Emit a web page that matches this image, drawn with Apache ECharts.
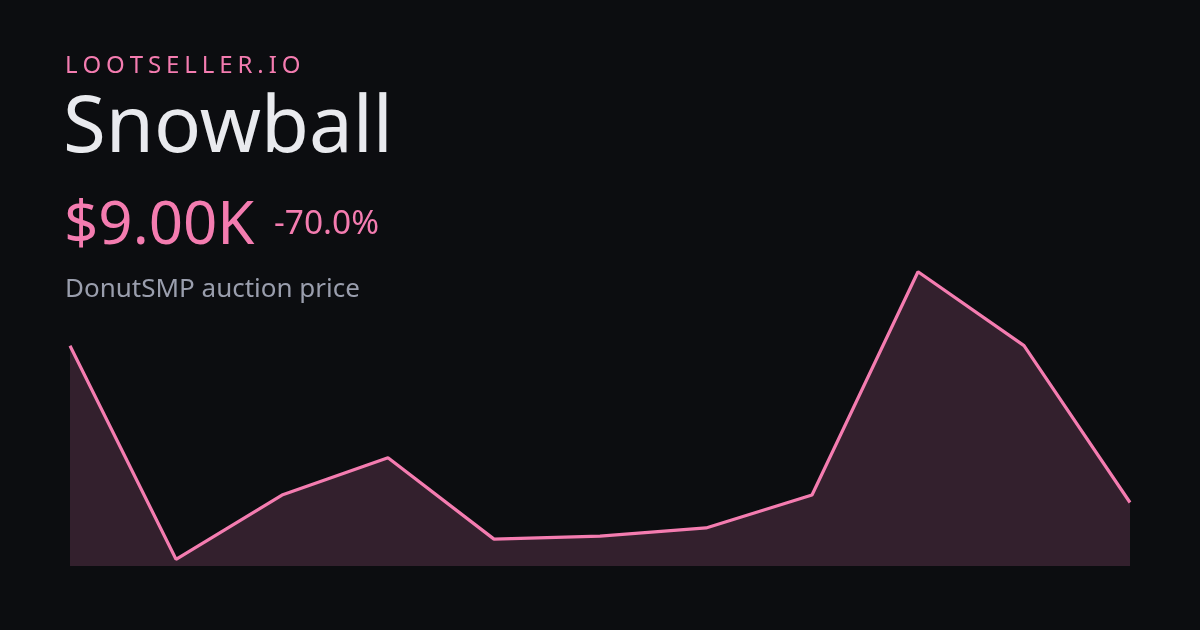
<!DOCTYPE html>
<html>
<head>
<meta charset="utf-8">
<script src="https://cdn.jsdelivr.net/npm/echarts@6/dist/echarts.min.js"></script>
<style>
html,body{margin:0;padding:0;background:#0c0d10;}
#c{width:1200px;height:630px;}
</style>
</head>
<body>
<div id="c"></div>
<script>
const categories = ['1','2','3','4','5','6','7','8','9','10','11'];
const prices = [30000, 1400, 10000, 15000, 4100, 4500, 5600, 10000, 39900, 30000, 9000];
const brand = 'LOOTSELLER.IO';
const itemName = 'Snowball';
const priceLabel = '$9.00K';
const changeLabel = '-70.0%';
const subtitle = 'DonutSMP auction price';

const FONT = '"Noto Sans", "Open Sans", sans-serif';
const PINK = '#f47cb0';

const cv = document.createElement('canvas').getContext('2d');
function w(str, size){ cv.font = size + 'px ' + FONT; return cv.measureText(str).width; }

function txt(str, x, baseline, size, color, align){
  return {type:'text', x: x, y: baseline - 0.285*size,
    style:{text:str, x:0, y:0, font: size + 'px ' + FONT, fill:color,
      textAlign: align || 'left', textVerticalAlign:'middle'}};
}

const graphics = [];
(function(){
  const size = 24, spacing = 4.9;
  let x = 65;
  for (const ch of brand) {
    graphics.push(txt(ch, x, 73, size, PINK));
    x += w(ch, size) + spacing;
  }
})();
graphics.push(txt(itemName, 63, 152, 78, '#e9eaee'));
graphics.push(txt(priceLabel, 64, 244, 60, PINK));
graphics.push(txt(changeLabel, 274, 234, 33.5, PINK));
graphics.push(txt(subtitle, 65, 297, 26, '#9a9ead'));

const chart = echarts.init(document.getElementById('c'), null, {renderer:'canvas'});
chart.setOption({
  backgroundColor:'#0c0d10',
  animation:false,
  grid:{left:70, right:70, top:271, bottom:64},
  xAxis:{type:'category', data:categories, boundaryGap:false, show:false},
  yAxis:{type:'value', min:500, max:40000, show:false},
  series:[{
    type:'line', data:prices, symbol:'none',
    lineStyle:{color:PINK, width:3.2},
    areaStyle:{color:'#33202d', opacity:1, origin:'start'}
  }],
  graphic: graphics
});
</script>
</body>
</html>
